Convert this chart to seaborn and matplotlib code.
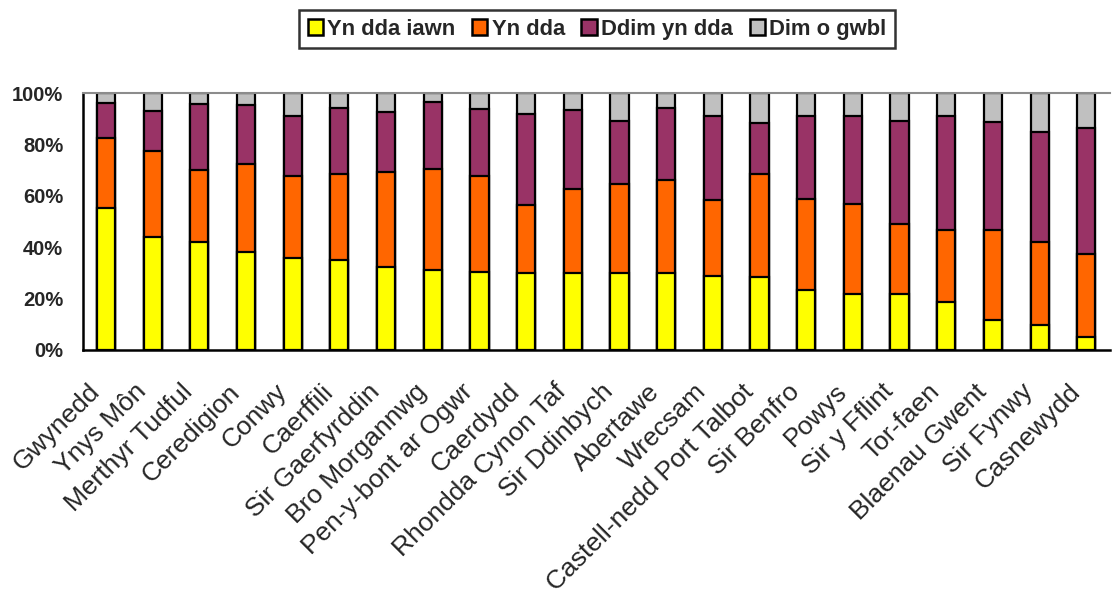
import numpy as np
import matplotlib
matplotlib.use("Agg")
import matplotlib.pyplot as plt
import matplotlib.transforms as mtransforms
import seaborn as sns
from matplotlib.patches import Patch
from matplotlib.ticker import FixedLocator

# Categories and shares (%) per answer, bottom to top of each bar.
regions = [
    "Gwynedd", "Ynys Môn", "Merthyr Tudful", "Ceredigion", "Conwy", "Caerffili",
    "Sir Gaerfyrddin", "Bro Morgannwg", "Pen-y-bont ar Ogwr", "Caerdydd",
    "Rhondda Cynon Taf", "Sir Ddinbych", "Abertawe", "Wrecsam",
    "Castell-nedd Port Talbot", "Sir Benfro", "Powys", "Sir y Fflint",
    "Tor-faen", "Blaenau Gwent", "Sir Fynwy", "Casnewydd",
]
yn_dda_iawn = [55.5, 44.2, 42.1, 38.3, 35.7, 34.9, 32.5, 31.3, 30.3, 30.1, 30.1,
               30.1, 29.9, 29.0, 28.3, 23.5, 21.9, 21.9, 18.8, 11.8, 9.7, 5.2]
yn_dda = [27.2, 33.5, 28.0, 34.0, 32.0, 33.5, 36.7, 39.1, 37.6, 26.3, 32.5,
          34.4, 36.2, 29.4, 40.4, 35.3, 34.9, 27.1, 28.0, 34.8, 32.2, 32.1]
ddim_yn_dda = [13.7, 15.5, 25.6, 23.0, 23.5, 26.0, 23.5, 26.2, 25.9, 35.7, 30.9,
               24.9, 28.1, 32.9, 19.9, 32.5, 34.2, 40.4, 44.5, 42.4, 42.9, 49.3]
dim_o_gwbl = [3.6, 6.8, 4.3, 4.7, 8.8, 5.6, 7.3, 3.4, 6.2, 7.9, 6.5,
              10.6, 5.8, 8.7, 11.4, 8.7, 9.0, 10.6, 8.7, 11.0, 15.2, 13.4]

series_names = ["Yn dda iawn", "Yn dda", "Ddim yn dda", "Dim o gwbl"]
series_colors = ["#FFFF00", "#FF6600", "#993366", "#C0C0C0"]

sns.set_style("white")
plt.rcParams["font.family"] = ["Liberation Sans", "DejaVu Sans"]

fig = plt.figure(figsize=(11.13, 5.95), dpi=100)
ax = fig.add_axes([0.0742, 0.4118, 0.9228, 0.4314])

stack = np.array([yn_dda_iawn, yn_dda, ddim_yn_dda, dim_o_gwbl])
totals = stack.sum(axis=0)
cum = np.cumsum(stack, axis=0) / totals * 100

# Draw the tallest cumulative level first so the lower segments sit on top.
for level in range(3, -1, -1):
    sns.barplot(x=regions, y=cum[level], color=series_colors[level],
                width=0.39, edgecolor="black", linewidth=1.6,
                saturation=1, ax=ax)

ax.set_xlim(-0.5, len(regions) - 0.5)
ax.set_ylim(0, 100)
ax.set_yticks(np.arange(0, 101, 20))
ax.set_yticklabels([f"{v}%" for v in range(0, 101, 20)],
                   fontsize=14.5, fontweight="bold")

# Slanted category labels, drawn as texts so they can sit a bit left of
# the bar centre the way the original chart places them.
ax.set_xticks(range(len(regions)))
ax.set_xticklabels([])
label_shift = mtransforms.ScaledTranslation(-10 / 100, -38 / 100,
                                            fig.dpi_scale_trans)
for i, name in enumerate(regions):
    ax.text(i, 0, name, transform=ax.get_xaxis_transform() + label_shift,
            rotation=45, rotation_mode="anchor", ha="right", va="center",
            fontsize=19)

ax.xaxis.set_minor_locator(FixedLocator(np.arange(0.5, len(regions) - 0.5, 1)))
ax.tick_params(axis="x", which="major", length=0)
ax.tick_params(axis="x", which="minor", direction="in", length=6,
               width=1.5, color="black")
ax.tick_params(axis="y", direction="out", length=6, width=1.5,
               color="black", pad=8)
ax.set_xlabel("")
ax.set_ylabel("")

for side in ["left", "bottom"]:
    ax.spines[side].set_color("black")
    ax.spines[side].set_linewidth(1.8)
ax.spines["right"].set_visible(False)
ax.spines["top"].set_color("#8c8c8c")
ax.spines["top"].set_linewidth(1.5)

handles = [Patch(facecolor=c, edgecolor="black", linewidth=1.8, label=n)
           for n, c in zip(series_names, series_colors)]
leg = fig.legend(handles=handles, loc="center", bbox_to_anchor=(0.5364, 0.951),
                 ncol=4, frameon=True, fancybox=False,
                 prop={"weight": "bold", "size": 15.8},
                 handlelength=0.7, handleheight=0.7, handletextpad=0.2,
                 columnspacing=0.75, borderpad=0.4, borderaxespad=0)
leg.get_frame().set_edgecolor("black")
leg.get_frame().set_linewidth(1.8)

fig.savefig("out.png", dpi=100, facecolor="white")
plt.close(fig)
